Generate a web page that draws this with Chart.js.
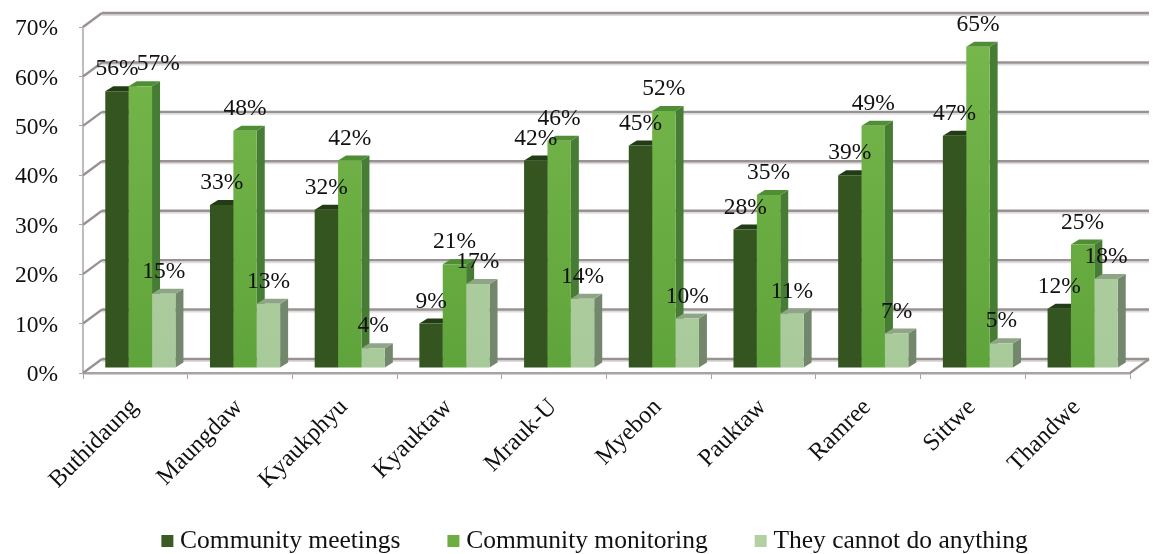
<!DOCTYPE html>
<html>
<head>
<meta charset="utf-8">
<title>Chart</title>
<script src="https://cdn.jsdelivr.net/npm/chart.js@4"></script>
<style>
  html, body { margin: 0; padding: 0; background: #fff; }
  #wrap { width: 1153px; height: 554px; }
</style>
</head>
<body>
<div id="wrap"><canvas id="chart" width="1153" height="554"></canvas></div>
<script>
const townships = ["Buthidaung", "Maungdaw", "Kyaukphyu", "Kyauktaw", "Mrauk-U", "Myebon", "Pauktaw", "Ramree", "Sittwe", "Thandwe"];
const communityMeetings = [56, 33, 32, 9, 42, 45, 28, 39, 47, 12];
const communityMonitoring = [57, 48, 42, 21, 46, 52, 35, 49, 65, 25];
const cannotDoAnything = [15, 13, 4, 17, 14, 10, 11, 7, 5, 18];

const serif = "'Liberation Serif', 'Times New Roman', serif";
const ctx = document.getElementById("chart").getContext("2d");

// 3d look: bars sit a bit behind the front plane, the wall further back
const wallDx = 19, wallDy = -14;
const barDx = 5, barDy = -5;
const depthX = 8, depthY = 5;

function verticalGradient(top, bottom) {
  const g = ctx.createLinearGradient(0, 27, 0, 373);
  g.addColorStop(0, top);
  g.addColorStop(1, bottom);
  return g;
}

// legend box with a transparent strip, the library centres it on the item
function swatch(color) {
  const c = document.createElement("canvas");
  c.width = 16;
  c.height = 12;
  const cc = c.getContext("2d");
  cc.fillStyle = color;
  cc.fillRect(3, 0, 12, 12);
  return c;
}

const seriesFaces = [
  { top: "#223d15", side: "#2a4a1a" },
  { top: "#4f8e35", side: "#467c33" },
  { top: "#8ea686", side: "#72876c" },
];
const legendColors = ["#3a5c24", "#6cae42", "#b2d0a2"];

function line(c, x1, y1, x2, y2) {
  c.beginPath();
  c.moveTo(x1, y1);
  c.lineTo(x2, y2);
  c.stroke();
}

function poly(c, pts, color) {
  c.fillStyle = color;
  c.beginPath();
  pts.forEach((p, i) => (i ? c.lineTo(p[0], p[1]) : c.moveTo(p[0], p[1])));
  c.closePath();
  c.fill();
}

const wallPlugin = {
  id: "wall",
  afterLayout(chart) {
    // tick labels are clipped to the axis box, so open the boxes up
    chart.scales.y.left = 0;
    chart.scales.x.bottom = chart.height;
  },
  beforeDatasetsDraw(chart) {
    const c = chart.ctx;
    const { left, right } = chart.chartArea;
    const yScale = chart.scales.y;
    c.save();
    c.lineCap = "butt";
    // soft shadow under each wall line
    yScale.ticks.forEach((t) => {
      const y = yScale.getPixelForValue(t.value);
      c.strokeStyle = "#dcdcdc";
      c.lineWidth = 2;
      line(c, left + wallDx, y + wallDy + 2, right + wallDx, y + wallDy + 2);
      c.strokeStyle = "#9a9290";
      c.lineWidth = 2.4;
      line(c, left, y, left + wallDx, y + wallDy);
      line(c, left + wallDx, y + wallDy, right + wallDx, y + wallDy);
    });
    const yb = yScale.getPixelForValue(0);
    line(c, right, yb, right + wallDx, yb + wallDy);
    c.restore();
  },
};

const bars3dPlugin = {
  id: "bars3d",
  beforeDatasetsDraw(chart) {
    const c = chart.ctx;
    c.save();
    c.translate(barDx, barDy);
    chart.data.datasets.forEach((ds, i) => {
      chart.getDatasetMeta(i).data.forEach((el) => {
        const x2 = el.x + el.width / 2;
        const x1 = el.x - el.width / 2;
        poly(c, [[x2, el.y], [x2 + depthX, el.y - depthY], [x2 + depthX, el.base - depthY], [x2, el.base]], seriesFaces[i].side);
        poly(c, [[x1, el.y], [x1 + depthX, el.y - depthY], [x2 + depthX, el.y - depthY], [x2, el.y]], seriesFaces[i].top);
      });
    });
    c.restore();
    // fronts are drawn by the library, only moved with the rest of the bar
    c.save();
    c.translate(barDx, barDy);
  },
  afterDatasetsDraw(chart) {
    const c = chart.ctx;
    c.restore();
    c.save();
    c.font = "23.5px " + serif;
    c.fillStyle = "#111";
    c.textAlign = "center";
    c.textBaseline = "middle";
    chart.data.datasets.forEach((ds, i) => {
      chart.getDatasetMeta(i).data.forEach((el, j) => {
        // the 57% label was moved aside in the original so it clears 56%
        const nudge = i === 1 && j === 0 ? 18 : 0;
        c.fillText(ds.data[j] + "%", el.x + barDx + nudge, el.y + barDy - 22);
      });
    });
    c.restore();
  },
};

new Chart(ctx, {
  type: "bar",
  data: {
    labels: townships,
    datasets: [
      { label: "Community meetings", data: communityMeetings, backgroundColor: "#345420", clip: false },
      { label: "Community monitoring", data: communityMonitoring, backgroundColor: verticalGradient("#78b84c", "#5fa43b"), clip: false },
      { label: "They cannot do anything", data: cannotDoAnything, backgroundColor: verticalGradient("#b6d4a6", "#a8c999"), clip: false },
    ],
  },
  options: {
    responsive: false,
    animation: false,
    categoryPercentage: 0.67,
    barPercentage: 1,
    layout: { padding: { left: 63, right: 23, top: 27, bottom: -10 } },
    scales: {
      x: {
        afterFit(axis) { axis.height = 104.5; },
        border: { color: "#a8a2a0", width: 2.4 },
        grid: { drawOnChartArea: false, tickLength: 6, color: "#a8a2a0", offset: true },
        ticks: {
          autoSkip: false,
          minRotation: 45,
          maxRotation: 45,
          padding: 14,
          labelOffset: -1,
          color: "#111",
          font: { family: serif, size: 24.5 },
        },
      },
      y: {
        min: 0,
        max: 70,
        afterFit(axis) {
          axis.width = 20;
          axis.paddingTop = 0;
          axis.paddingBottom = 0;
        },
        border: { color: "#bdbdbd", width: 2 },
        grid: { drawOnChartArea: false, tickLength: 4, color: "#a8a2a0" },
        ticks: {
          stepSize: 10,
          padding: 21,
          labelOffset: 2,
          color: "#111",
          font: { family: serif, size: 23.5 },
          callback: (v) => v + "%",
        },
      },
    },
    plugins: {
      tooltip: { enabled: false },
      legend: {
        position: "bottom",
        labels: {
          usePointStyle: true,
          pointStyleWidth: 2,
          padding: 51,
          color: "#111",
          font: { family: serif, size: 25.5 },
          generateLabels(chart) {
            return Chart.defaults.plugins.legend.labels.generateLabels(chart).map((item, i) => {
              item.pointStyle = swatch(legendColors[i]);
              return item;
            });
          },
        },
      },
    },
  },
  plugins: [wallPlugin, bars3dPlugin],
});
</script>
</body>
</html>
